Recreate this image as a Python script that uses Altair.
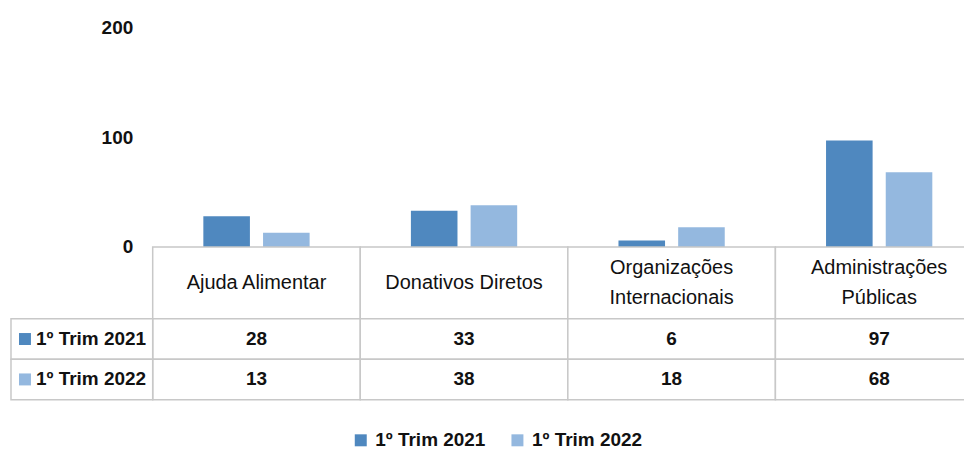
import altair as alt
import pandas as pd

categories = ["Ajuda Alimentar", "Donativos Diretos", "Organizações Internacionais", "Administrações Públicas"]
header_labels = ["Ajuda Alimentar", "Donativos Diretos", "Organizações\nInternacionais", "Administrações\nPúblicas"]
series = ["1º Trim 2021", "1º Trim 2022"]
values_2021 = [28, 33, 6, 97]
values_2022 = [13, 38, 18, 68]
y_ticks = [0, 100, 200]
colors = ["#4F88BF", "#94B8DF"]

rows = []
for c, v1, v2 in zip(categories, values_2021, values_2022):
    rows.append({"cat": c, "series": series[0], "value": v1})
    rows.append({"cat": c, "series": series[1], "value": v2})
df = pd.DataFrame(rows)
hdr = pd.DataFrame({"cat": categories, "label": header_labels})
ser = pd.DataFrame({"series": series})

FONT = "Liberation Sans"
W = 832
GRID = "#C8C8C8"
TXT = "#111111"
BOLD_SIZE = 19
HDR_SIZE = 20

color_scale = alt.Scale(domain=series, range=colors)

bars = alt.Chart(df).mark_bar().encode(
    x=alt.X("cat:N", sort=categories, axis=None,
            scale=alt.Scale(paddingInner=0.488, paddingOuter=0.244)),
    xOffset=alt.XOffset("series:N", sort=series, scale=alt.Scale(paddingInner=0.22)),
    y=alt.Y("value:Q", scale=alt.Scale(domain=[0, 200]),
            axis=alt.Axis(values=y_ticks, grid=False, domain=False, ticks=False,
                          labelFont=FONT, labelFontSize=BOLD_SIZE, labelFontWeight="bold",
                          labelColor=TXT, labelPadding=20, title=None, labelFlush=False)),
    color=alt.Color("series:N", scale=color_scale,
                    legend=alt.Legend(title=None, orient="none", direction="horizontal",
                                      legendX=199, legendY=404, symbolType="square",
                                      symbolSize=144, symbolStrokeWidth=0,
                                      labelFont=FONT, labelFontSize=BOLD_SIZE, labelFontWeight="bold",
                                      labelColor=TXT, labelOffset=5, columnPadding=22)),
).properties(width=W, height=220)

xcat = alt.X("cat:N", sort=categories, axis=None, scale=alt.Scale(paddingInner=0, paddingOuter=0))

header_cells = alt.Chart(hdr).mark_rect(fill="white", stroke=GRID, strokeWidth=1.5).encode(x=xcat)
header_one = alt.Chart(hdr).transform_filter(
    "indexof(datum.label, '\\n') < 0"
).mark_text(font=FONT, fontSize=HDR_SIZE, color=TXT).encode(x=xcat, text="label:N")
header_two = alt.Chart(hdr).transform_filter(
    "indexof(datum.label, '\\n') >= 0"
).mark_text(font=FONT, fontSize=HDR_SIZE, lineBreak="\n", lineHeight=30, dy=-15,
            color=TXT).encode(x=xcat, text="label:N")
header = alt.layer(header_cells, header_one, header_two).properties(width=W, height=72)

yser = alt.Y("series:N", sort=series, axis=None, scale=alt.Scale(paddingInner=0, paddingOuter=0))

cells = alt.Chart(df).mark_rect(fill="white", stroke=GRID, strokeWidth=1.5).encode(x=xcat, y=yser)
vals = alt.Chart(df).mark_text(font=FONT, fontSize=BOLD_SIZE, fontWeight="bold", color=TXT).encode(
    x=xcat, y=yser, text="value:Q")
left_box = alt.Chart(ser).mark_rect(fill="white", stroke=GRID, strokeWidth=1.5).encode(
    x=alt.value(-142), x2=alt.value(0), y=yser)
squares = alt.Chart(ser).mark_square(size=144, opacity=1, strokeWidth=0).encode(
    x=alt.value(-128), y=yser, color=alt.Color("series:N", scale=color_scale, legend=None))
labels = alt.Chart(ser).mark_text(font=FONT, fontSize=BOLD_SIZE, fontWeight="bold", color=TXT,
                                  align="left").encode(x=alt.value(-117), y=yser, text="series:N")
table = alt.layer(cells, vals, left_box, squares, labels).properties(width=W, height=81)

chart = alt.vconcat(bars, header, table, spacing=0, bounds="flush").resolve_scale(
    x="independent", color="shared"
).properties(
    padding={"left": 2, "top": 10, "right": -20, "bottom": 0}
).configure_view(stroke=None)

chart.save("out.html", embed_options={"renderer": "svg", "actions": False})
